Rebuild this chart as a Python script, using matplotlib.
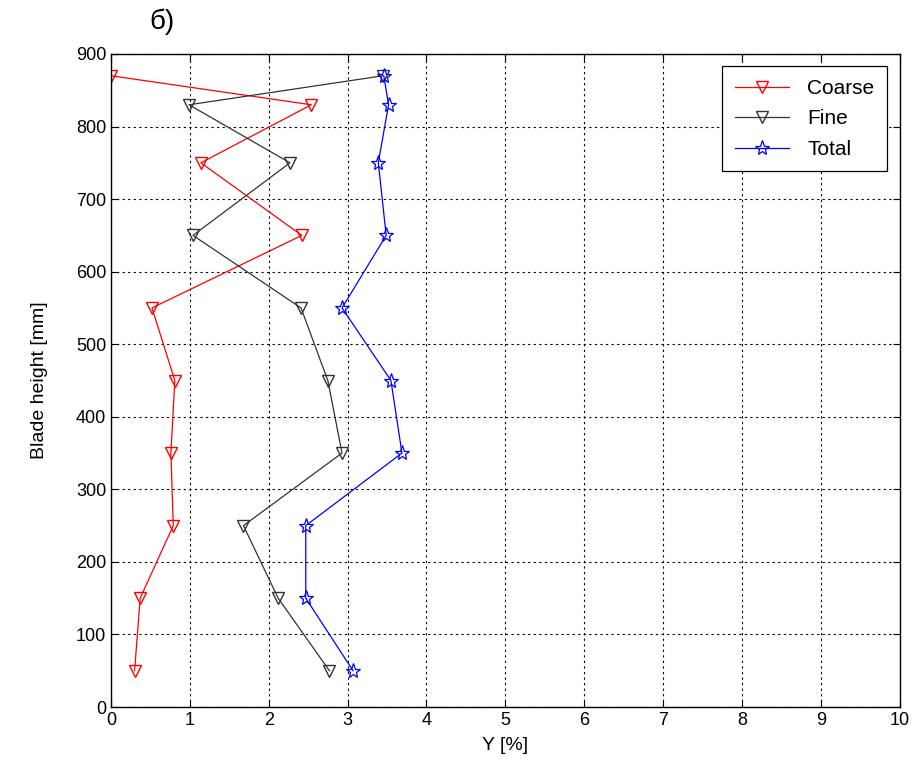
import matplotlib
matplotlib.use("Agg")
import matplotlib.pyplot as plt

# blade height stations [mm]
height = [870, 830, 750, 650, 550, 450, 350, 250, 150, 50]

# losses Y [%]
coarse = [0.00, 2.54, 1.14, 2.42, 0.52, 0.81, 0.76, 0.79, 0.37, 0.30]
fine = [3.45, 0.99, 2.27, 1.04, 2.41, 2.75, 2.93, 1.68, 2.12, 2.77]
total = [3.46, 3.52, 3.39, 3.49, 2.93, 3.55, 3.69, 2.47, 2.47, 3.07]

plt.rcParams["font.family"] = ["Liberation Sans", "DejaVu Sans"]

fig = plt.figure(figsize=(9.17, 7.79), dpi=100)
ax = fig.add_axes([0.121, 0.0924, 0.86, 0.8383])

ax.plot(coarse, height, color="red", lw=0.9, marker="v", ms=8,
        mfc="none", mec="red", label="Coarse")
ax.plot(fine, height, color="#333333", lw=0.9, marker="v", ms=8,
        mfc="none", mec="#333333", label="Fine")
ax.plot(total, height, color="blue", lw=0.9, marker="*", ms=11,
        mfc="none", mec="blue", mew=0.9, label="Total")

ax.set_xlim(0, 10)
ax.set_ylim(0, 900)
ax.set_xticks(range(0, 11))
ax.set_yticks(range(0, 901, 100))
ax.grid(True, color="black", linestyle=(0, (2, 3)), lw=0.8)
ax.tick_params(direction="in", top=True, right=True, labelsize=13, length=5)
for s in ax.spines.values():
    s.set_linewidth(1.0)

ax.set_xlabel("Y [%]", fontsize=14, labelpad=6)
ax.set_ylabel("Blade height [mm]", fontsize=14, labelpad=20)

leg = ax.legend(loc="upper right", fontsize=15, fancybox=False,
                edgecolor="black", framealpha=1, handlelength=2.6,
                borderaxespad=0.6, labelspacing=0.55, borderpad=0.6,
                handletextpad=0.9)
leg.get_frame().set_linewidth(0.9)

fig.text(0.163, 0.972, "б)", fontsize=20, ha="left", va="center")

fig.savefig("out.png", dpi=100)
